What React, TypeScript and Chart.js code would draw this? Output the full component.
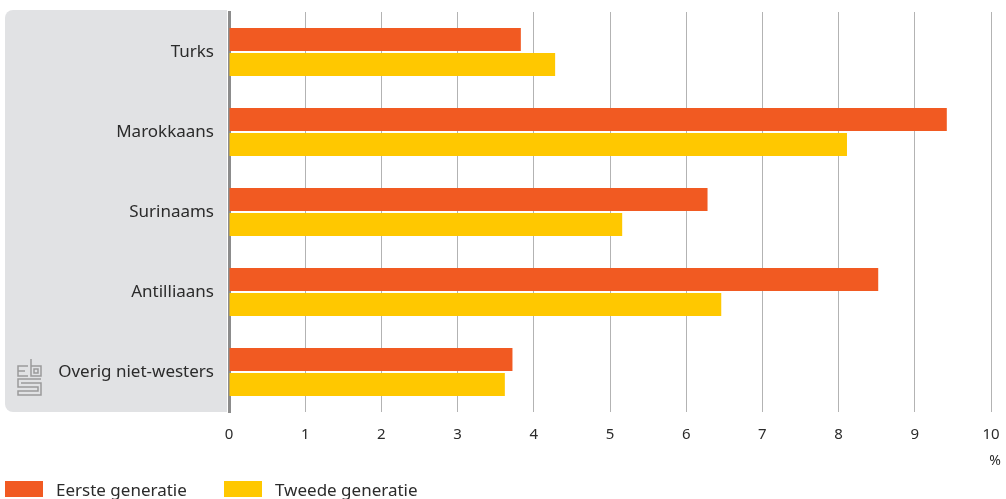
import React, { useEffect, useRef } from "react";
import { Chart, registerables } from "chart.js";

Chart.register(...registerables);

const categories = ["Turks", "Marokkaans", "Surinaams", "Antilliaans", "Overig niet-westers"];
const eersteGeneratie = [3.83, 9.42, 6.28, 8.52, 3.72];
const tweedeGeneratie = [4.28, 8.11, 5.16, 6.46, 3.62];
const seriesLabels = ["Eerste generatie", "Tweede generatie"];
const xTicks = [0, 1, 2, 3, 4, 5, 6, 7, 8, 9, 10];
const unitLabel = "%";

const ORANGE = "#f15a22";
const YELLOW = "#ffc800";
const PANEL = "#e1e2e4";
const TEXT = "#2b2b2b";
const FONT = "'Noto Sans', 'Open Sans', sans-serif";

const decorPlugin = {
  id: "decor",
  beforeDraw(chart: any) {
    const { ctx, chartArea } = chart;
    ctx.save();
    ctx.fillStyle = PANEL;
    ctx.beginPath();
    const x = 5;
    const y = chartArea.top - 2;
    const w = chartArea.left - 2 - x;
    const h = chartArea.bottom - y;
    (ctx as any).roundRect(x, y, w, h, [8, 0, 0, 8]);
    ctx.fill();
    ctx.restore();
  },
  afterDraw(chart: any) {
    const { ctx } = chart;
    ctx.save();
    // unit label
    ctx.fillStyle = TEXT;
    ctx.font = `14px ${FONT}`;
    ctx.textAlign = "right";
    ctx.textBaseline = "middle";
    ctx.fillText(unitLabel, 1001, 461);

    // legend
    const items = [
      { x: 5, color: ORANGE, label: seriesLabels[0] },
      { x: 224, color: YELLOW, label: seriesLabels[1] },
    ];
    ctx.font = `17px ${FONT}`;
    ctx.textAlign = "left";
    ctx.textBaseline = "alphabetic";
    items.forEach((it) => {
      ctx.fillStyle = it.color;
      ctx.fillRect(it.x, 481, 38, 16);
      ctx.fillStyle = TEXT;
      ctx.fillText(it.label, it.x + 51, 496);
    });

    // logo (cbs)
    ctx.strokeStyle = "#9a9a9a";
    ctx.lineWidth = 1.5;
    const lx = 18;
    const ly = 359;
    // c
    ctx.beginPath();
    ctx.moveTo(lx + 10, ly + 7);
    ctx.lineTo(lx, ly + 7);
    ctx.lineTo(lx, ly + 17);
    ctx.lineTo(lx + 10, ly + 17);
    ctx.moveTo(lx, ly + 12);
    ctx.lineTo(lx + 7, ly + 12);
    ctx.stroke();
    // b
    ctx.beginPath();
    ctx.moveTo(lx + 13, ly);
    ctx.lineTo(lx + 13, ly + 17);
    ctx.lineTo(lx + 23, ly + 17);
    ctx.lineTo(lx + 23, ly + 7);
    ctx.lineTo(lx + 13, ly + 7);
    ctx.rect(lx + 16, ly + 10, 4, 4);
    ctx.stroke();
    // s
    ctx.beginPath();
    ctx.moveTo(lx + 23, ly + 20);
    ctx.lineTo(lx, ly + 20);
    ctx.lineTo(lx, ly + 28);
    ctx.lineTo(lx + 20, ly + 28);
    ctx.lineTo(lx + 20, ly + 32);
    ctx.lineTo(lx, ly + 32);
    ctx.lineTo(lx, ly + 36);
    ctx.lineTo(lx + 23, ly + 36);
    ctx.lineTo(lx + 23, ly + 24);
    ctx.lineTo(lx + 3, ly + 24);
    ctx.stroke();
    ctx.restore();
  },
};

export default function App() {
  const ref = useRef<HTMLCanvasElement | null>(null);

  useEffect(() => {
    document.body.style.margin = "0";
    const canvas = ref.current;
    if (!canvas) return;
    const chart = new Chart(canvas, {
      type: "bar",
      data: {
        labels: categories,
        datasets: [
          {
            label: seriesLabels[0],
            data: eersteGeneratie,
            backgroundColor: ORANGE,
            categoryPercentage: 0.625,
            barPercentage: 0.92,
          },
          {
            label: seriesLabels[1],
            data: tweedeGeneratie,
            backgroundColor: YELLOW,
            categoryPercentage: 0.625,
            barPercentage: 0.92,
          },
        ],
      },
      options: {
        indexAxis: "y",
        animation: false,
        responsive: false,
        devicePixelRatio: 1,
        layout: { padding: { top: 12, right: 15, left: 0, bottom: 0 } },
        plugins: {
          legend: { display: false },
          tooltip: { enabled: false },
        },
        scales: {
          x: {
            min: 0,
            max: 10,
            afterFit(scale: any) {
              scale.height = 87;
              scale.paddingLeft = 0;
              scale.paddingRight = 0;
            },
            afterBuildTicks(scale: any) {
              scale.ticks = xTicks.map((v) => ({ value: v }));
            },
            grid: {
              color: "#b3b3b3",
              lineWidth: 1,
              drawTicks: false,
              tickLength: 0,
            },
            border: { display: false },
            ticks: {
              padding: 14,
              color: TEXT,
              font: { family: FONT, size: 15 },
            },
          },
          y: {
            afterFit(scale: any) {
              scale.width = 229;
              scale.paddingTop = 0;
              scale.paddingBottom = 0;
            },
            grid: { display: false, drawTicks: false },
            border: { color: "#8c8c8c", width: 3 },
            ticks: {
              padding: 15,
              color: TEXT,
              font: { family: FONT, size: 17 },
            },
          },
        },
      },
      plugins: [decorPlugin],
    });
    return () => chart.destroy();
  }, []);

  return (
    <div style={{ position: "absolute", left: 0, top: 0, width: 1006, height: 499 }}>
      <canvas ref={ref} width={1006} height={499} style={{ display: "block", width: 1006, height: 499 }} />
    </div>
  );
}
